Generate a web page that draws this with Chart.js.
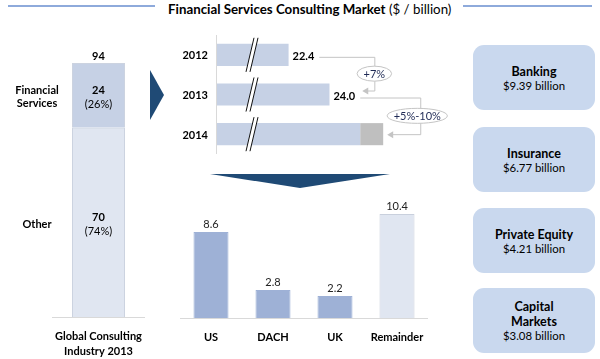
<!DOCTYPE html>
<html><head><meta charset="utf-8">
<script src="https://cdn.jsdelivr.net/npm/chart.js@4"></script>
<style>
html,body{margin:0;padding:0;background:#fff;}
body{width:600px;height:359px;position:relative;overflow:hidden;font-family:Lato,"Open Sans",sans-serif;color:#000;}
canvas{position:absolute;}
.tline{position:absolute;top:5px;height:1.5px;background:#8eaadb;}
.title{position:absolute;left:168px;top:1px;white-space:nowrap;font-size:13.3px;line-height:16px;}
.box{position:absolute;left:473px;width:122px;height:65px;border-radius:11px;background:#c9d8ee;display:flex;flex-direction:column;justify-content:center;align-items:center;text-align:center;padding-top:3px;box-sizing:border-box;}
.box .n{font-weight:bold;font-size:12.5px;line-height:14.5px;}
.box .v{font-size:11.4px;line-height:14.5px;}
svg{position:absolute;left:0;top:0;}
</style></head>
<body>
<div class="tline" style="left:8px;width:147px"></div>
<div class="tline" style="left:463px;width:129px"></div>
<div class="title" id="title"><b>Financial Services Consulting Market</b> ($ / billion)</div>
<svg width="600" height="359">
  <polygon points="150,70 164,95 150,120" fill="#1f4a75"/>
  <polygon points="210,174 390,174 300,188" fill="#1f4a75"/>
</svg>
<canvas id="c1" width="160" height="319" style="left:0;top:40px"></canvas>
<canvas id="c2" width="305" height="130" style="left:160px;top:30px"></canvas>
<canvas id="c3" width="270" height="164" style="left:170px;top:195px"></canvas>
<div id="boxes"></div>
<script>
// ---- data ----
const industryCategories = ['Financial Services', 'Other'];
const industryLabelLines = [['Financial', 'Services'], ['Other']];
const industryValues = [24, 70];
const industryXLabel = ['Global Consulting', 'Industry 2013'];

const marketYears = ['2012', '2013', '2014'];
const marketValues = [22.4, 24.0, 25.2];
const marketRange = [0, 0, 0.9];
const marketValueLabels = ['22.4', '24.0', ''];
const growthLabels = ['+7%', '+5%-10%'];

const regionCategories = ['US', 'DACH', 'UK', 'Remainder'];
const regionValues = [8.6, 2.8, 2.2, 10.4];

const segmentNames = [['Banking'], ['Insurance'], ['Private Equity'], ['Capital', 'Markets']];
const segmentValues = [9.39, 6.77, 4.21, 3.08];

// ---- styles ----
const FONT = 'Lato, "Open Sans", sans-serif';
const LIGHT = '#c6d1e5';
const LIGHTER = '#e0e6f1';
const MID = '#9eb1d6';
const AXIS = '#d9d9d9';

Chart.defaults.font.family = FONT;
const base = {responsive:false, animation:false, plugins:{legend:{display:false}, tooltip:{enabled:false}}};

// ---- chart 1: global industry stacked bar ----
const industryTotal = industryValues.reduce((a,b)=>a+b,0);
const industryColors = [LIGHT, LIGHTER];
const ds1 = industryValues.map((v,i)=>({label:industryCategories[i], data:[v], backgroundColor:industryColors[i], borderColor:'#ccd3e0', borderWidth:1, barPercentage:1, categoryPercentage:0.57})).reverse();
const plugin1 = {id:'p1', afterDatasetsDraw(chart){
  const ctx=chart.ctx, a=chart.chartArea;
  ctx.save();
  ctx.strokeStyle=AXIS; ctx.lineWidth=1;
  ctx.beginPath(); ctx.moveTo(a.left,a.bottom+0.5); ctx.lineTo(a.right,a.bottom+0.5); ctx.stroke();
  ctx.textAlign='center'; ctx.textBaseline='middle'; ctx.fillStyle='#000';
  const n = chart.data.datasets.length;
  const topEl = chart.getDatasetMeta(n-1).data[0];
  ctx.font='bold 11px '+FONT;
  ctx.fillText(String(industryTotal), topEl.x, topEl.y-7);
  chart.data.datasets.forEach((ds,di)=>{
    const idx = industryCategories.indexOf(ds.label);
    const el = chart.getDatasetMeta(di).data[0];
    const cy = (el.y+el.base)/2 + 2;
    const v = ds.data[0];
    ctx.font='bold 11px '+FONT; ctx.fillText(String(v), el.x, cy-7);
    ctx.font='11px '+FONT; ctx.fillText('('+Math.round(v/industryTotal*100)+'%)', el.x, cy+7);
    const lines = industryLabelLines[idx];
    ctx.font='bold 11px '+FONT;
    lines.forEach((l,k)=>ctx.fillText(l, 37, cy + (k-(lines.length-1)/2)*13));
  });
  ctx.font='bold 11px '+FONT;
  const bx = (a.left+a.right)/2;
  industryXLabel.forEach((l,k)=>ctx.fillText(l, bx, a.bottom+19+k*15));
  ctx.restore();
}};
new Chart(document.getElementById('c1'), {type:'bar',
  data:{labels:['2013'], datasets:ds1},
  options:{...base, layout:{padding:{left:52,right:15,top:23,bottom:42}},
    scales:{x:{display:false, stacked:true}, y:{display:false, stacked:true, min:0, max:industryTotal}}},
  plugins:[plugin1]});

// ---- chart 2: market growth horizontal bars ----
const plugin2 = {id:'p2', afterDatasetsDraw(chart){
  const ctx=chart.ctx, a=chart.chartArea;
  const bars = chart.getDatasetMeta(0).data;
  const ext = chart.getDatasetMeta(1).data;
  ctx.save();
  ctx.strokeStyle=AXIS; ctx.lineWidth=1;
  ctx.beginPath(); ctx.moveTo(a.left-0.5,a.top); ctx.lineTo(a.left-0.5,a.bottom); ctx.stroke();
  bars.forEach(b=>{
    const h=b.height, t=b.y-h/2-6, btm=b.y+h/2+6, x=a.left+33;
    ctx.fillStyle='#fff';
    ctx.beginPath(); ctx.moveTo(x-4,btm); ctx.lineTo(x+4,t); ctx.lineTo(x+8,t); ctx.lineTo(x,btm); ctx.closePath(); ctx.fill();
    ctx.strokeStyle='#111'; ctx.lineWidth=1;
    ctx.beginPath(); ctx.moveTo(x-4,btm); ctx.lineTo(x+4,t); ctx.moveTo(x,btm); ctx.lineTo(x+8,t); ctx.stroke();
  });
  ctx.fillStyle='#000'; ctx.textBaseline='middle';
  ctx.font='bold 11px '+FONT; ctx.textAlign='right';
  bars.forEach((b,i)=>ctx.fillText(marketYears[i], a.left-9, b.y+1));
  ctx.textAlign='left';
  const ends=[];
  bars.forEach((b,i)=>{
    const lbl = marketValueLabels[i];
    if(lbl){ ctx.fillText(lbl, b.x+4, b.y+2); ends.push(b.x+4+ctx.measureText(lbl).width); }
    else ends.push(Math.max(b.x, ext[i].x));
  });
  ctx.strokeStyle='#c4c4c4'; ctx.fillStyle='#c4c4c4'; ctx.lineWidth=1;
  const arrow=(x,y)=>{ctx.beginPath(); ctx.moveTo(x,y); ctx.lineTo(x+6,y-3.5); ctx.lineTo(x+6,y+3.5); ctx.closePath(); ctx.fill();};
  const conns=[
    {x0:ends[0]+5, y0:bars[0].y+2, vx:ends[0]+60, y1:bars[1].y-4, x1:ends[1]+7},
    {x0:ends[1]+5, y0:bars[1].y+3, vx:ends[1]+65, y1:bars[2].y, x1:ends[2]+4}
  ];
  conns.forEach((c,i)=>{
    ctx.beginPath(); ctx.moveTo(c.x0,c.y0+0.5); ctx.lineTo(c.vx+0.5,c.y0+0.5); ctx.lineTo(c.vx+0.5,c.y1+0.5); ctx.lineTo(c.x1+5,c.y1+0.5); ctx.stroke();
    arrow(c.x1,c.y1+0.5);
  });
  ctx.font='11px '+FONT; ctx.textAlign='center';
  conns.forEach((c,i)=>{
    const cy=(c.y0+c.y1)/2, w=ctx.measureText(growthLabels[i]).width+13;
    const cx = c.vx - (i===1?3:0);
    ctx.beginPath(); ctx.ellipse(cx, cy, w/2, 7.5, 0, 0, Math.PI*2);
    ctx.fillStyle='#fff'; ctx.fill(); ctx.strokeStyle='#c4c4c4'; ctx.stroke();
    ctx.fillStyle='#1f2a55'; ctx.fillText(growthLabels[i], cx, cy+1);
  });
  ctx.restore();
}};
new Chart(document.getElementById('c2'), {type:'bar',
  data:{labels:marketYears, datasets:[
    {data:marketValues, backgroundColor:LIGHT, barPercentage:1, categoryPercentage:0.557},
    {data:marketRange, backgroundColor:'#bfbfbf', barPercentage:1, categoryPercentage:0.557}
  ]},
  options:{...base, indexAxis:'y', layout:{padding:{left:57,right:0,top:5,bottom:6}},
    scales:{x:{display:false, stacked:true, min:19.6, max:29.3}, y:{display:false, stacked:true}}},
  plugins:[plugin2]});

// ---- chart 3: regions ----
const plugin3 = {id:'p3', afterDatasetsDraw(chart){
  const ctx=chart.ctx, a=chart.chartArea;
  ctx.save();
  ctx.strokeStyle=AXIS; ctx.lineWidth=1;
  ctx.beginPath(); ctx.moveTo(a.left,a.bottom+0.5); ctx.lineTo(a.right,a.bottom+0.5); ctx.stroke();
  ctx.textAlign='center'; ctx.textBaseline='middle';
  chart.getDatasetMeta(0).data.forEach((b,i)=>{
    ctx.fillStyle='#222'; ctx.font='11px '+FONT;
    ctx.fillText(regionValues[i].toFixed(1), b.x, b.y-8);
    ctx.fillStyle='#000'; ctx.font='bold 11px '+FONT;
    ctx.fillText(regionCategories[i], b.x, a.bottom+19);
  });
  ctx.restore();
}};
new Chart(document.getElementById('c3'), {type:'bar',
  data:{labels:regionCategories, datasets:[{data:regionValues,
    backgroundColor:regionCategories.map((c,i)=>i===3?LIGHTER:MID),
    borderColor:regionCategories.map((c,i)=>i===3?'#c9d0dd':MID), borderWidth:1,
    barPercentage:1, categoryPercentage:0.565}]},
  options:{...base, layout:{padding:{left:10,right:12,top:3,bottom:41}},
    scales:{x:{display:false}, y:{display:false, min:0, max:12}}},
  plugins:[plugin3]});

// ---- segment boxes ----
const boxTops=[45,127,208,288];
const wrap=document.getElementById('boxes');
segmentNames.forEach((n,i)=>{
  const d=document.createElement('div'); d.className='box'; d.style.top=boxTops[i]+'px';
  n.forEach(l=>{const e=document.createElement('div'); e.className='n'; e.textContent=l; d.appendChild(e);});
  const v=document.createElement('div'); v.className='v'; v.textContent='$'+segmentValues[i].toFixed(2)+' billion'; d.appendChild(v);
  wrap.appendChild(d);
});
</script>
</body></html>
